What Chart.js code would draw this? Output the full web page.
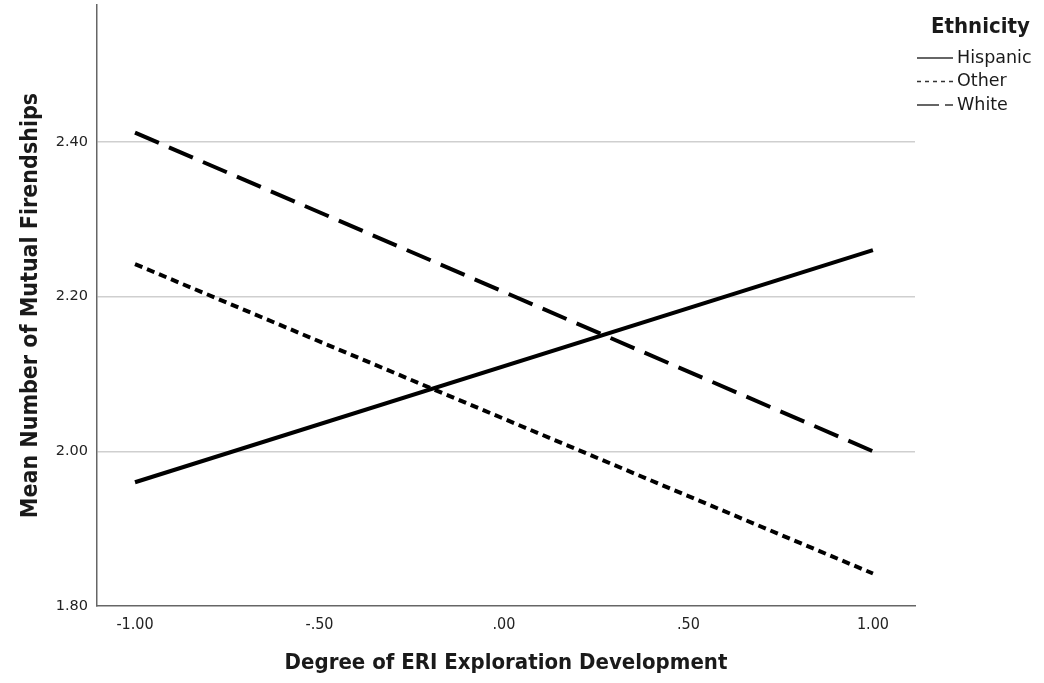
<!DOCTYPE html>
<html lang="en">
  <head>
    <meta charset="UTF-8" />
    <title>Mean Number of Mutual Firendships</title>
    <style>
      html, body { margin: 0; padding: 0; background: #fff; }
      #wrap { width: 1044px; height: 683px; }
    </style>
  </head>
  <body>
    <div id="wrap"><canvas id="myChart" width="1044" height="683"></canvas></div>

    <script src="https://cdn.jsdelivr.net/npm/chart.js"></script>
    <script>
      // Data
      const xValues = [-1, 1];
      const hispanic = [1.96, 2.26];
      const other = [2.242, 1.842];
      const white = [2.412, 2.0];
      const seriesNames = ["Hispanic", "Other", "White"];
      const xTicks = [-1, -0.5, 0, 0.5, 1];
      const xTickLabels = ["-1.00", "-.50", ".00", ".50", "1.00"];
      const yTicks = [1.8, 2.0, 2.2, 2.4];
      const yTickLabels = ["1.80", "2.00", "2.20", "2.40"];

      const narrow = "'Liberation Sans Narrow', 'DejaVu Sans Condensed', sans-serif";

      const toPoints = (ys) => ys.map((y, i) => ({ x: xValues[i], y: y }));

      // simple legend drawn at the right side, like the original output
      const sideLegend = {
        id: "sideLegend",
        afterDraw(chart) {
          const ctx = chart.ctx;
          ctx.save();
          ctx.fillStyle = "#1a1a1a";
          ctx.font = "bold 22px " + narrow;
          ctx.textBaseline = "middle";
          ctx.fillText("Ethnicity", 931, 27);
          ctx.font = "17.5px 'DejaVu Sans', sans-serif";
          chart.data.datasets.forEach((ds, i) => {
            const y = 58 + i * 23.5;
            ctx.strokeStyle = "#333";
            ctx.lineWidth = 1.5;
            ctx.setLineDash(ds.legendDash);
            ctx.beginPath();
            ctx.moveTo(917, y);
            ctx.lineTo(953, y);
            ctx.stroke();
            ctx.setLineDash([]);
            ctx.fillText(ds.label, 957, y);
          });
          ctx.restore();
        },
      };

      const ctx = document.getElementById("myChart").getContext("2d");
      const chart = new Chart(ctx, {
        type: "scatter",
        data: {
          datasets: [
            {
              label: seriesNames[0],
              data: toPoints(hispanic),
              borderDash: [],
              legendDash: [],
            },
            {
              label: seriesNames[1],
              data: toPoints(other),
              borderDash: [8, 5],
              legendDash: [4, 4],
            },
            {
              label: seriesNames[2],
              data: toPoints(white),
              borderDash: [26, 11],
              legendDash: [22, 6],
            },
          ].map((d) => ({
            ...d,
            showLine: true,
            borderColor: "#000",
            backgroundColor: "#000",
            borderWidth: 4,
            borderCapStyle: "butt",
            pointRadius: 0,
            tension: 0,
          })),
        },
        options: {
          responsive: false,
          animation: false,
          layout: { padding: { top: 5, right: 129, left: 0, bottom: 0 } },
          plugins: {
            legend: { display: false },
            tooltip: { enabled: false },
          },
          scales: {
            x: {
              type: "linear",
              min: -1.103,
              max: 1.114,
              afterBuildTicks: (s) => { s.ticks = xTicks.map((v) => ({ value: v })); },
              afterFit: (s) => { s.height = 77; s.paddingLeft = 0; s.paddingRight = 0; },
              grid: { display: false, drawTicks: false },
              border: { display: true, color: "#666", width: 1.5 },
              ticks: {
                padding: 9,
                color: "#222",
                font: { family: narrow, size: 16 },
                callback: (v) => xTickLabels[xTicks.indexOf(v)],
              },
              title: {
                display: true,
                text: "Degree of ERI Exploration Development",
                color: "#1a1a1a",
                font: { family: narrow, size: 22, weight: "bold" },
                padding: { top: 0, bottom: 7 },
              },
            },
            y: {
              type: "linear",
              min: 1.8,
              max: 2.577,
              afterBuildTicks: (s) => { s.ticks = yTicks.map((v) => ({ value: v })); },
              afterFit: (s) => { s.width = 97; s.paddingTop = 0; s.paddingBottom = 0; },
              grid: {
                drawTicks: false,
                color: (c) => (c.tick && c.tick.value === 1.8 ? "rgba(0,0,0,0)" : "#cfcfcf"),
                lineWidth: 1.5,
              },
              border: { display: true, color: "#666", width: 1.5 },
              ticks: {
                padding: 9,
                color: "#222",
                font: { family: "'DejaVu Sans', sans-serif", size: 14.5 },
                callback: (v) => yTickLabels[yTicks.indexOf(v)],
              },
              title: {
                display: true,
                text: "Mean Number of Mutual Firendships",
                color: "#1a1a1a",
                font: { family: narrow, size: 23, weight: "bold" },
                padding: { top: 17, bottom: 0 },
              },
            },
          },
        },
        plugins: [sideLegend],
      });
    </script>
  </body>
</html>
